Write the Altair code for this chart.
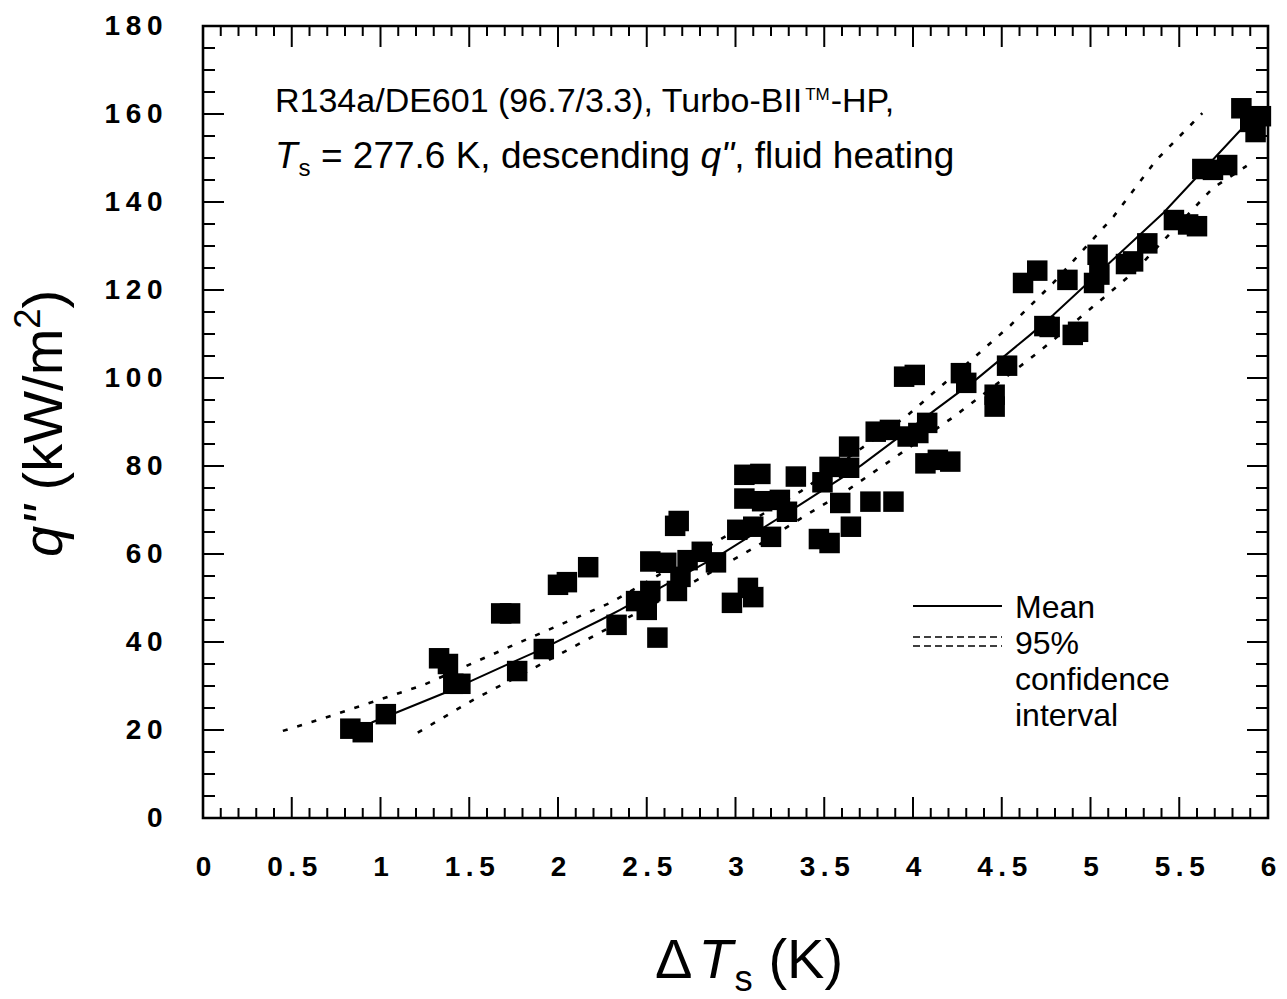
import altair as alt
import pandas as pd

# ---------------- data ----------------
pts_x = [0.83, 0.90, 1.03, 1.33, 1.38, 1.41, 1.45, 1.68, 1.73, 1.77, 1.92, 2.00, 2.05, 2.17,
         2.33, 2.44, 2.50, 2.52, 2.52, 2.56, 2.61, 2.66, 2.68, 2.67, 2.69, 2.73, 2.81, 2.89,
         2.98, 3.07, 3.10, 3.01, 3.10, 3.05, 3.14, 3.05, 3.15, 3.20, 3.25, 3.29, 3.34, 3.47,
         3.53, 3.65, 3.59, 3.49, 3.53, 3.64, 3.64, 3.76, 3.89, 3.79, 3.87, 3.97, 4.03, 4.08,
         3.95, 4.01, 4.07, 4.14, 4.21, 4.27, 4.30, 4.46, 4.46, 4.53, 4.62, 4.70, 4.74, 4.77,
         4.87, 4.90, 4.93, 5.02, 5.05, 5.04, 5.20, 5.24, 5.32, 5.47, 5.55, 5.60, 5.63, 5.69,
         5.77, 5.85, 5.90, 5.93, 5.96]
pts_y = [20.3, 19.5, 23.6, 36.3, 35.0, 30.5, 30.5, 46.5, 46.5, 33.4, 38.4, 53.0, 53.6, 57.0,
         43.9, 49.3, 47.3, 51.6, 58.3, 41.0, 58.0, 66.4, 67.5, 51.6, 54.8, 58.6, 60.5, 58.1,
         48.9, 52.3, 50.2, 65.5, 66.2, 78.0, 78.2, 72.6, 72.0, 63.9, 72.3, 69.6, 77.6, 63.4,
         62.5, 66.2, 71.6, 76.3, 79.8, 79.6, 84.4, 71.9, 71.9, 87.8, 88.2, 86.7, 87.5, 89.8,
         100.3, 100.7, 80.6, 81.4, 81.0, 101.1, 98.9, 96.2, 93.5, 102.8, 121.6, 124.4, 111.8, 111.6,
         122.3, 109.8, 110.5, 121.6, 123.5, 128.0, 125.9, 126.5, 130.6, 135.9, 134.9, 134.5, 147.5, 147.3,
         148.4, 161.3, 158.2, 155.9, 159.5]

mean_x = [0.95, 1.08, 1.36, 1.71, 1.90, 2.24, 2.35, 2.93, 3.36, 3.71, 4.11, 4.36, 4.66, 4.79, 5.41, 5.62, 5.86]
mean_y = [21.7, 23.8, 28.4, 34.8, 38.2, 45.0, 47.3, 60.2, 71.1, 80.2, 92.3, 99.8, 109.8, 114.3, 137.5, 146.6, 157.0]

up_x = [0.45, 0.72, 1.24, 1.71, 2.30, 2.91, 3.37, 3.96, 4.34, 4.55, 4.79, 5.13, 5.37, 5.63]
up_y = [19.8, 23.2, 30.2, 38.6, 49.0, 63.2, 74.3, 91.2, 104.5, 112.0, 121.6, 136.7, 149.5, 160.2]

lo_x = [1.21, 1.52, 1.86, 2.24, 2.67, 3.10, 3.40, 3.63, 3.85, 4.23, 4.65, 4.79, 5.24, 5.69, 5.88]
lo_y = [19.4, 26.8, 34.0, 42.2, 51.5, 61.3, 68.9, 74.5, 80.6, 91.2, 104.1, 108.6, 123.9, 143.2, 148.2]

x_major = [0, 0.5, 1, 1.5, 2, 2.5, 3, 3.5, 4, 4.5, 5, 5.5, 6]
y_major = [0, 20, 40, 60, 80, 100, 120, 140, 160, 180]
x_minor = [i / 10 for i in range(61) if i % 5 != 0]
y_minor = [v for v in range(0, 181, 5) if v % 20 != 0]

# ---------------- layout ----------------
W, H = 1065, 792
L, T = 203, 26
FONT = "Liberation Sans"

xs = alt.Scale(domain=[0, 6], nice=False, zero=False)
ys = alt.Scale(domain=[0, 180], nice=False, zero=False)

ARIAL = {' ': 278, '"': 355, '(': 333, ')': 333, ',': 278, '-': 333, '.': 278, '/': 278, '=': 584,
         '%': 889, 'R': 722, 'D': 722, 'E': 667, 'T': 611, 'B': 667, 'I': 278, 'H': 722, 'P': 667,
         'K': 667, 'M': 833, 'W': 944, 'a': 556, 'b': 556, 'c': 500, 'd': 556, 'e': 556, 'f': 278,
         'g': 556, 'h': 556, 'i': 222, 'k': 500, 'l': 222, 'm': 833, 'n': 556, 'o': 556, 'q': 556,
         'r': 333, 's': 500, 't': 278, 'u': 556, 'v': 500, '\u0394': 668}


def tw(s, size):
    return sum(ARIAL.get(c, 556) for c in s) / 1000.0 * size


def txt(s, x, y, size, style="normal", angle=0, align="left"):
    return alt.Chart(pd.DataFrame({"t": [s]})).mark_text(
        font=FONT, fontSize=size, fontStyle=style, angle=angle, align=align,
        baseline="alphabetic", color="black"
    ).encode(x=alt.value(x), y=alt.value(y), text="t:N")


label_expr = "replace(datum.label, regexp('(.)(?=.)', 'g'), '$1\u2009')"

df_pts = pd.DataFrame({"x": pts_x, "y": pts_y})
points = alt.Chart(df_pts).mark_square(size=420, color="black", opacity=1).encode(
    x=alt.X("x:Q", scale=xs, axis=alt.Axis(
        values=x_major, format="~g", ticks=False, domain=False, grid=False, title=None,
        labelExpr=label_expr, labelFont=FONT, labelFontSize=28, labelFontWeight="bold",
        labelColor="black", labelPadding=35, labelFlush=False, labelOverlap=False)),
    y=alt.Y("y:Q", scale=ys, axis=alt.Axis(
        values=y_major, format="d", ticks=False, domain=False, grid=False, title=None,
        labelExpr=label_expr, labelFont=FONT, labelFontSize=28, labelFontWeight="bold",
        labelColor="black", labelPadding=41, labelFlush=False, labelOverlap=False)),
)


def curve(xv, yv, dash=None, width=2.0):
    kw = dict(color="black", strokeWidth=width)
    if dash:
        kw["strokeDash"] = dash
    return alt.Chart(pd.DataFrame({"x": xv, "y": yv})).mark_line(**kw).encode(
        x=alt.X("x:Q", scale=xs), y=alt.Y("y:Q", scale=ys))


mean_line = curve(mean_x, mean_y, width=2.0)
up_line = curve(up_x, up_y, dash=[5, 10], width=2.6)
lo_line = curve(lo_x, lo_y, dash=[5, 10], width=2.6)


def xticks(vals, length, top):
    d = pd.DataFrame({"v": vals})
    y0, y1 = (0, length) if top else (H, H - length)
    return alt.Chart(d).mark_rule(color="black", strokeWidth=2).encode(
        x=alt.X("v:Q", scale=xs), y=alt.value(y0), y2=alt.value(y1))


def yticks(vals, length, right):
    d = pd.DataFrame({"v": vals})
    x0, x1 = (W, W - length) if right else (0, length)
    return alt.Chart(d).mark_rule(color="black", strokeWidth=2).encode(
        y=alt.Y("v:Q", scale=ys), x=alt.value(x0), x2=alt.value(x1))


ticks = [xticks(x_major, 21, False), xticks(x_major, 21, True),
         xticks(x_minor, 10, False), xticks(x_minor, 10, True),
         yticks(y_major, 21, False), yticks(y_major, 21, True),
         yticks(y_minor, 12, False), yticks(y_minor, 12, True)]

# legend
FL = 32
leg = [
    alt.Chart(pd.DataFrame({"a": [0]})).mark_rule(color="black", strokeWidth=2).encode(
        x=alt.value(913 - L), x2=alt.value(1002 - L), y=alt.value(606 - T)),
    alt.Chart(pd.DataFrame({"a": [0]})).mark_rule(color="black", strokeWidth=1.4, strokeDash=[7, 4]).encode(
        x=alt.value(913 - L), x2=alt.value(1002 - L), y=alt.value(637 - T)),
    alt.Chart(pd.DataFrame({"a": [0]})).mark_rule(color="black", strokeWidth=1.4, strokeDash=[7, 4]).encode(
        x=alt.value(913 - L), x2=alt.value(1002 - L), y=alt.value(646 - T)),
    txt("Mean", 1015 - L, 618 - T, FL),
    txt("95%", 1015 - L, 654 - T, FL),
    txt("confidence", 1015 - L, 690 - T, FL),
    txt("interval", 1015 - L, 726 - T, FL),
]

# annotation text (two lines)
F1 = 34
x0 = 275 - L
b1 = 112 - T
p1 = "R134a/DE601 (96.7/3.3), Turbo-BII"
xa = x0 + tw(p1, F1)
xb = xa + tw("TM", F1 * 0.5) + 2
note = [txt(p1, x0, b1, F1), txt("TM", xa + 1, b1 - 12, F1 * 0.5), txt("-HP,", xb, b1, F1)]

F2 = 37
b2 = 168 - T
xc = x0 + tw("T", F2) + 1
xd = xc + tw("s", F2 * 0.65) + tw(" ", F2)
p3 = "= 277.6 K, descending"
xe = xd + tw(p3, F2) + tw(" ", F2)
xf = xe + tw('q"', F2)
note += [txt("T", x0, b2, F2, "italic"), txt("s", xc, b2 + 8, F2 * 0.65),
         txt(p3, xd, b2, F2), txt('q"', xe, b2, F2, "italic"),
         txt(", fluid heating", xf, b2, F2)]

# x axis title
FX = 56
bx = 978 - T
gx = 655 - L
g2 = gx + tw("\u0394", FX) + 6
g3 = g2 + tw("T", FX) + 2
g4 = g3 + tw("s", FX * 0.65) + tw(" ", FX)
xtitle = [txt("\u0394", gx, bx, FX), txt("T", g2, bx, FX, "italic"),
          txt("s", g3, bx + 13, FX * 0.65), txt("(K)", g4, bx, FX)]

# y axis title (rotated)
FY = 56
bxy = 62 - L
sy = 557 - T
h2 = sy - tw('q"', FY) - tw(" ", FY)
h3 = h2 - tw("(kW/m", FY)
h4 = h3 - tw("2", FY * 0.65)
ytitle = [txt('q"', bxy, sy, FY, "italic", 270), txt("(kW/m", bxy, h2, FY, "normal", 270),
          txt("2", bxy - 22, h3, FY * 0.65, "normal", 270), txt(")", bxy, h4, FY, "normal", 270)]

chart = alt.layer(
    points, mean_line, up_line, lo_line, *ticks, *leg, *note, *xtitle, *ytitle
).properties(
    width=W, height=H,
    autosize=alt.AutoSizeParams(type="none"),
    padding={"left": L, "top": T, "right": 1287 - L - W, "bottom": 999 - T - H},
    background="white",
).configure_view(stroke="black", strokeWidth=2.6)

chart.save("out.html", embed_options={"renderer": "svg", "actions": False})
